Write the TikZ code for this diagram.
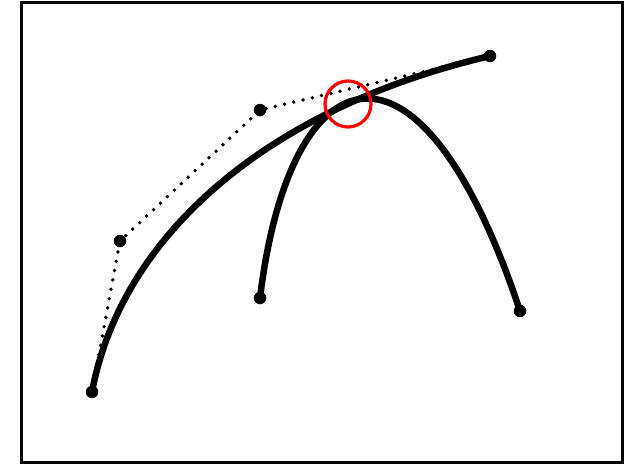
\documentclass[tikz,border=0pt]{standalone}
\tikzset{
  pt/.style={circle,fill=black,inner sep=0pt,minimum size=12.5pt},
  curve/.style={line width=6.5pt},
  poly/.style={line width=3.8pt,line cap=round,dash pattern=on 0pt off 9.5pt},
}
\begin{document}
\begin{tikzpicture}[x=1pt,y=-1pt]
    \useasboundingbox (0,0) rectangle (625,464);
    \draw[line width=3pt] (21,2) rectangle (622,462);
    % first curve with its control polygon
    \node[pt] (a0) at (92,392) {};
    \node[pt] (a1) at (120,241) {};
    \node[pt] (a2) at (260,110) {};
    \node[pt] (a3) at (490,56) {};
    \draw[poly] (a0.center) -- (a1.center) -- (a2.center) -- (a3.center);
    \draw[curve] (a0.center) .. controls (a1.center) and (a2.center) .. (a3.center);
    % second curve
    \node[pt] (b0) at (260,298) {};
    \node[pt] (b3) at (520,311) {};
    \coordinate (b1) at (290,50);
    \coordinate (b2) at (420,10);
    \draw[curve] (b0.center) .. controls (b1) and (b2) .. (b3.center);
    \node[draw=red,line width=3.2pt,circle,minimum size=46pt,inner sep=0pt] (touch) at (348,104) {};
\end{tikzpicture}
\end{document}
